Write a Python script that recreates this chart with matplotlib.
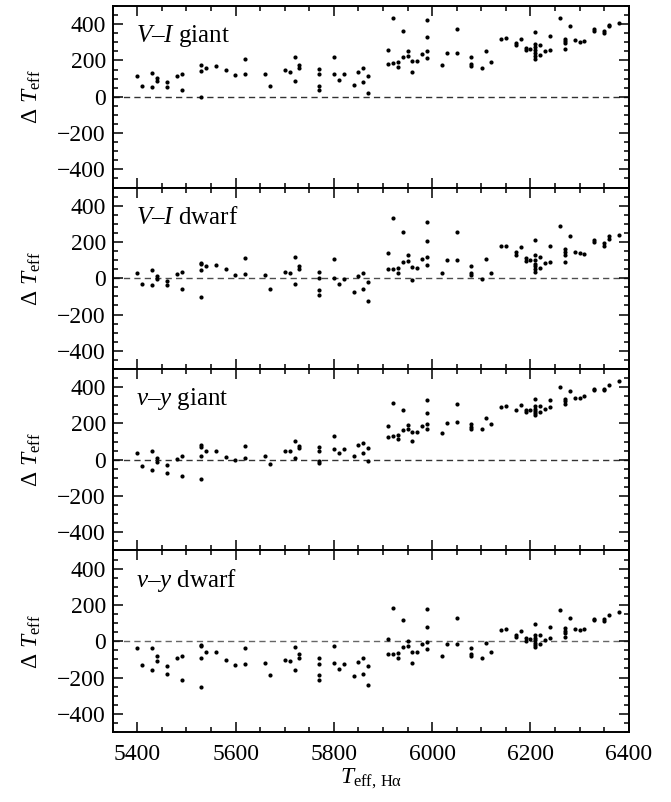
import numpy as np
import matplotlib
matplotlib.use("Agg")
import matplotlib.pyplot as plt
from matplotlib.ticker import MultipleLocator

plt.rcParams['font.family'] = ['Liberation Serif', 'DejaVu Serif']
plt.rcParams['mathtext.fontset'] = 'custom'
plt.rcParams['mathtext.rm'] = 'Liberation Serif'
plt.rcParams['mathtext.it'] = 'Liberation Serif:italic'

#####----- data (Teff_Halpha, Delta Teff)
teff_vi_giant = [5400, 5409, 5430, 5430, 5440, 5440, 5460, 5460, 5480, 5490, 5490,
                 5530, 5530, 5530, 5540, 5560, 5580, 5599, 5620, 5620, 5660, 5670,
                 5700, 5710, 5720, 5720, 5730, 5730, 5770, 5770, 5770, 5770, 5800,
                 5800, 5810, 5820, 5841, 5850, 5860, 5860, 5870, 5870, 5910, 5910,
                 5920, 5920, 5930, 5930, 5941, 5941, 5950, 5950, 5960, 5960, 5970,
                 5980, 5990, 5990, 5990, 5990, 6020, 6030, 6050, 6050, 6080, 6080,
                 6080, 6101, 6110, 6120, 6140, 6150, 6170, 6170, 6181, 6190, 6190,
                 6200, 6210, 6210, 6210, 6210, 6210, 6210, 6210, 6220, 6220, 6230,
                 6240, 6240, 6260, 6270, 6270, 6270, 6270, 6280, 6291, 6300, 6310,
                 6330, 6330, 6350, 6350, 6360, 6360, 6380]
dt_vi_giant = [113, 60, 132, 55, 101, 86, 84, 55, 113, 126, 40,
               177, 141, 0, 161, 168, 148, 121, 209, 124, 128, 59,
               145, 139, 221, 86, 176, 159, 154, 123, 62, 40, 221,
               128, 95, 124, 64, 139, 157, 79, 115, 20, 260, 181,
               432, 187, 190, 163, 364, 220, 254, 225, 198, 135, 196,
               238, 421, 328, 251, 212, 176, 242, 375, 242, 218, 181,
               172, 161, 253, 194, 320, 324, 295, 284, 320, 271, 256,
               263, 357, 291, 273, 256, 242, 223, 209, 284, 229, 251,
               333, 258, 432, 320, 307, 296, 265, 388, 313, 304, 309,
               373, 364, 364, 351, 388, 397, 406]

teff_vi_dwarf = [5400, 5409, 5430, 5430, 5440, 5440, 5460, 5460, 5480, 5490, 5490,
                 5530, 5530, 5530, 5530, 5540, 5560, 5580, 5599, 5620, 5620, 5660,
                 5670, 5700, 5710, 5720, 5720, 5730, 5730, 5770, 5770, 5770, 5770,
                 5800, 5800, 5810, 5820, 5841, 5850, 5860, 5860, 5870, 5870, 5910,
                 5910, 5920, 5920, 5930, 5930, 5941, 5941, 5950, 5950, 5960, 5960,
                 5970, 5980, 5990, 5990, 5990, 5990, 6020, 6030, 6050, 6050, 6080,
                 6080, 6080, 6101, 6110, 6120, 6140, 6150, 6170, 6170, 6181, 6190,
                 6190, 6200, 6210, 6210, 6210, 6210, 6210, 6210, 6210, 6220, 6220,
                 6230, 6240, 6240, 6260, 6270, 6270, 6270, 6270, 6280, 6291, 6300,
                 6310, 6330, 6330, 6350, 6350, 6360, 6360, 6380]
dt_vi_dwarf = [29, -29, 44, -35, 11, -2, -13, -39, 22, 33, -61,
               86, 77, 44, -106, 68, 73, 51, 18, 114, 22, 20,
               -57, 33, 28, 117, -33, 68, 50, 35, 0, -66, -90,
               108, 4, -31, -4, -75, 13, 29, -61, -20, -128, 139,
               50, 330, 53, 55, 28, 253, 90, 127, 95, 62, -7,
               59, 105, 312, 206, 119, 75, 29, 103, 253, 101, 68,
               31, 17, -2, 105, 31, 176, 180, 143, 128, 171, 112,
               94, 101, 209, 130, 99, 81, 70, 53, 35, 119, 55,
               83, 176, 88, 288, 160, 147, 130, 90, 233, 143, 138,
               136, 211, 200, 196, 180, 218, 231, 237]

teff_vy_giant = [5400, 5409, 5430, 5430, 5440, 5440, 5460, 5460, 5480, 5490, 5490,
                 5530, 5530, 5530, 5530, 5540, 5560, 5580, 5599, 5620, 5620, 5660,
                 5670, 5700, 5710, 5720, 5720, 5730, 5730, 5770, 5770, 5770, 5770,
                 5800, 5800, 5810, 5820, 5841, 5850, 5860, 5860, 5870, 5870, 5910,
                 5910, 5920, 5920, 5930, 5930, 5941, 5941, 5950, 5950, 5960, 5960,
                 5970, 5980, 5990, 5990, 5990, 5990, 6020, 6030, 6050, 6050, 6080,
                 6080, 6080, 6101, 6110, 6120, 6140, 6150, 6170, 6181, 6190, 6190,
                 6200, 6210, 6210, 6210, 6210, 6210, 6210, 6220, 6220, 6230, 6240,
                 6240, 6260, 6270, 6270, 6270, 6280, 6291, 6300, 6310, 6330, 6330,
                 6350, 6350, 6360, 6380]
dt_vy_giant = [37, -37, 46, -57, 7, -13, -31, -72, 6, 20, -90,
               79, 70, 18, -106, 48, 48, 15, 0, 77, 9, 22,
               -26, 46, 46, 106, 7, 75, 64, 72, 46, -9, -20,
               130, 59, 37, 61, 20, 79, 95, 35, 66, -6, 185,
               127, 314, 130, 139, 117, 273, 163, 189, 169, 152, 105,
               152, 187, 327, 257, 198, 171, 150, 202, 308, 207, 198,
               182, 169, 172, 231, 198, 288, 294, 275, 299, 272, 262,
               273, 332, 294, 281, 268, 257, 248, 294, 262, 281, 330,
               288, 402, 336, 323, 306, 378, 339, 341, 349, 391, 387,
               391, 385, 413, 433]

teff_vy_dwarf = [5400, 5409, 5430, 5430, 5440, 5440, 5460, 5460, 5480, 5490, 5490,
                 5530, 5530, 5530, 5530, 5540, 5560, 5580, 5599, 5620, 5620, 5660,
                 5670, 5700, 5710, 5720, 5720, 5730, 5730, 5770, 5770, 5770, 5770,
                 5800, 5800, 5810, 5820, 5841, 5850, 5860, 5860, 5870, 5870, 5910,
                 5910, 5920, 5920, 5930, 5930, 5941, 5941, 5950, 5950, 5960, 5960,
                 5970, 5980, 5990, 5990, 5990, 5990, 6020, 6030, 6050, 6050, 6080,
                 6080, 6080, 6101, 6110, 6120, 6140, 6150, 6170, 6170, 6181, 6190,
                 6190, 6200, 6210, 6210, 6210, 6210, 6210, 6210, 6210, 6220, 6220,
                 6230, 6240, 6240, 6260, 6270, 6270, 6270, 6270, 6280, 6291, 6300,
                 6310, 6330, 6330, 6350, 6350, 6360, 6380]
dt_vy_dwarf = [-40, -130, -35, -156, -79, -108, -136, -183, -92, -79, -215,
               -18, -28, -90, -250, -57, -61, -106, -130, -39, -127, -121,
               -187, -105, -108, -31, -161, -72, -90, -92, -127, -187, -211,
               -26, -121, -154, -127, -193, -112, -92, -178, -139, -240, 11,
               -72, 182, -68, -64, -90, 119, -31, 4, -28, -57, -121,
               -59, -15, 176, 81, -2, -42, -83, -15, 128, -15, -40,
               -72, -83, -90, -7, -61, 64, 68, 33, 24, 59, 20,
               2, 11, 95, 35, 20, 6, -7, -18, -29, 35, -15,
               7, 77, 17, 174, 72, 59, 48, 26, 130, 70, 64,
               70, 125, 118, 123, 112, 143, 161]

panels = [
    (teff_vi_giant, dt_vi_giant, r'$V$–$I$ giant', '0.2'),
    (teff_vi_dwarf, dt_vi_dwarf, r'$V$–$I$ dwarf', '0.3'),
    (teff_vy_giant, dt_vy_giant, r'$v$–$y$ giant', '0.2'),
    (teff_vy_dwarf, dt_vy_dwarf, r'$v$–$y$ dwarf', '0.4'),
]

#####----- plotting
fig, axes = plt.subplots(4, 1, figsize=(6.71, 8.02), dpi=100, sharex=True)
fig.subplots_adjust(left=0.168, right=0.937, top=0.9925, bottom=0.0873, hspace=0)

for ax, (x, y, lab, dcol) in zip(axes, panels):
    ax.scatter(x, y, s=9, color='black', linewidths=0, zorder=3)
    ax.axhline(0, color=dcol, lw=1.0, linestyle=(0, (4.5, 3)), zorder=1)
    ax.set_xlim(5350, 6400)
    ax.set_ylim(-500, 500)
    ax.yaxis.set_major_locator(MultipleLocator(200))
    ax.yaxis.set_minor_locator(MultipleLocator(50))
    ax.xaxis.set_major_locator(MultipleLocator(200))
    ax.xaxis.set_minor_locator(MultipleLocator(50))
    ax.tick_params(which='both', direction='in', top=True, right=True,
                   width=1.1, labelsize=17)
    ax.tick_params(which='major', length=7, pad=5)
    ax.tick_params(axis='x', which='major', pad=9)
    ax.tick_params(which='minor', length=3.5)
    for sp in ax.spines.values():
        sp.set_linewidth(1.4)
    ax.text(0.046, 0.80, lab, transform=ax.transAxes, fontsize=18, va='baseline')
    ax.set_ylabel('Δ $T_{\\rm eff}$', fontsize=17, labelpad=10)

axes[-1].set_xlabel(r'$T_{\mathrm{eff,\,Hα}}$', fontsize=17, labelpad=1)

fig.savefig('out.png', dpi=100)
